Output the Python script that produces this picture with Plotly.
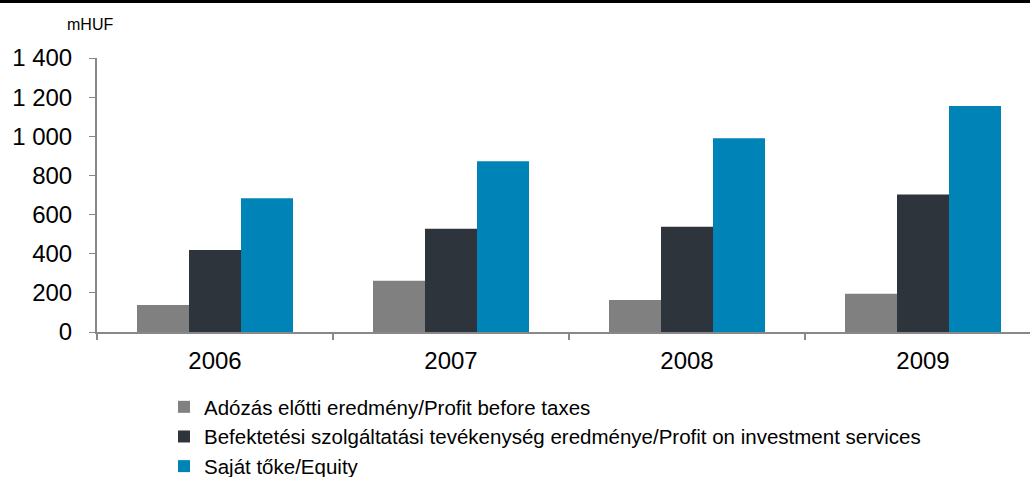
import plotly.graph_objects as go

years = ["2006", "2007", "2008", "2009"]
profit_before_taxes = [138, 262, 163, 196]
profit_investment = [419, 528, 538, 703]
equity = [683, 872, 990, 1155]

names = [
    "Adózás előtti eredmény/Profit before taxes",
    "Befektetési szolgáltatási tevékenység eredménye/Profit on investment services",
    "Saját tőke/Equity",
]
colors = ["#808080", "#2E343B", "#0083B7"]
series = [profit_before_taxes, profit_investment, equity]

fig = go.Figure()
for i, (n, c, s) in enumerate(zip(names, colors, series)):
    fig.add_trace(go.Bar(x=years, y=s, name=n, marker=dict(color=c, line=dict(width=0)),
                         legendgroup=str(i)))

W, H = 1030, 477
L, T, B, R = 97, 58, 145, 0
pw = W - L - R
ph = H - T - B
cat_w = 236.0

fig.update_layout(
    width=W, height=H,
    margin=dict(l=L, r=R, t=T, b=B, pad=0, autoexpand=False),
    paper_bgcolor="white", plot_bgcolor="white",
    font=dict(family="Liberation Sans, Arial, sans-serif", color="black"),
    separators=". ",
    barmode="group", bargap=0.339, bargroupgap=0,
    showlegend=True,
    legend=dict(
        orientation="v", x=(164 - L) / pw, xanchor="left", y=(T + ph - 387) / ph, yanchor="top",
        font=dict(size=20.5, color="black"), tracegroupgap=0,
        itemwidth=30, bgcolor="rgba(0,0,0,0)",
    ),
    xaxis=dict(
        type="category", range=[-0.5, -0.5 + pw / cat_w],
        showline=True, linecolor="#888888", linewidth=2,
        ticks="outside", tickson="boundaries", ticklen=6, tickcolor="#888888", tickwidth=2,
        tickfont=dict(size=24), showgrid=False, ticklabelstandoff=6,
    ),
    yaxis=dict(
        range=[0, 1400], tickvals=[0, 200, 400, 600, 800, 1000, 1200, 1400],
        tickformat=",d",
        showline=True, linecolor="#888888", linewidth=2,
        ticks="outside", ticklen=6, tickcolor="#888888", tickwidth=1,
        tickfont=dict(size=24), showgrid=False, zeroline=False, ticklabelstandoff=12,
    ),
    annotations=[
        dict(text="mHUF", xref="paper", yref="paper",
             x=(90 - L) / pw, y=(T + ph - 25) / ph, xanchor="center", yanchor="middle",
             showarrow=False, font=dict(size=16, color="black")),
    ],
    shapes=[
        dict(type="rect", xref="paper", yref="paper",
             x0=-0.2, x1=1.2, y0=(T + ph - 3) / ph, y1=(T + ph + 5) / ph,
             fillcolor="black", line=dict(width=0), layer="above"),
    ],
)

fig.write_html(
    "out.html",
    config={"displayModeBar": False},
    post_script="document.body.style.margin='0';document.body.style.overflow='hidden';",
)
